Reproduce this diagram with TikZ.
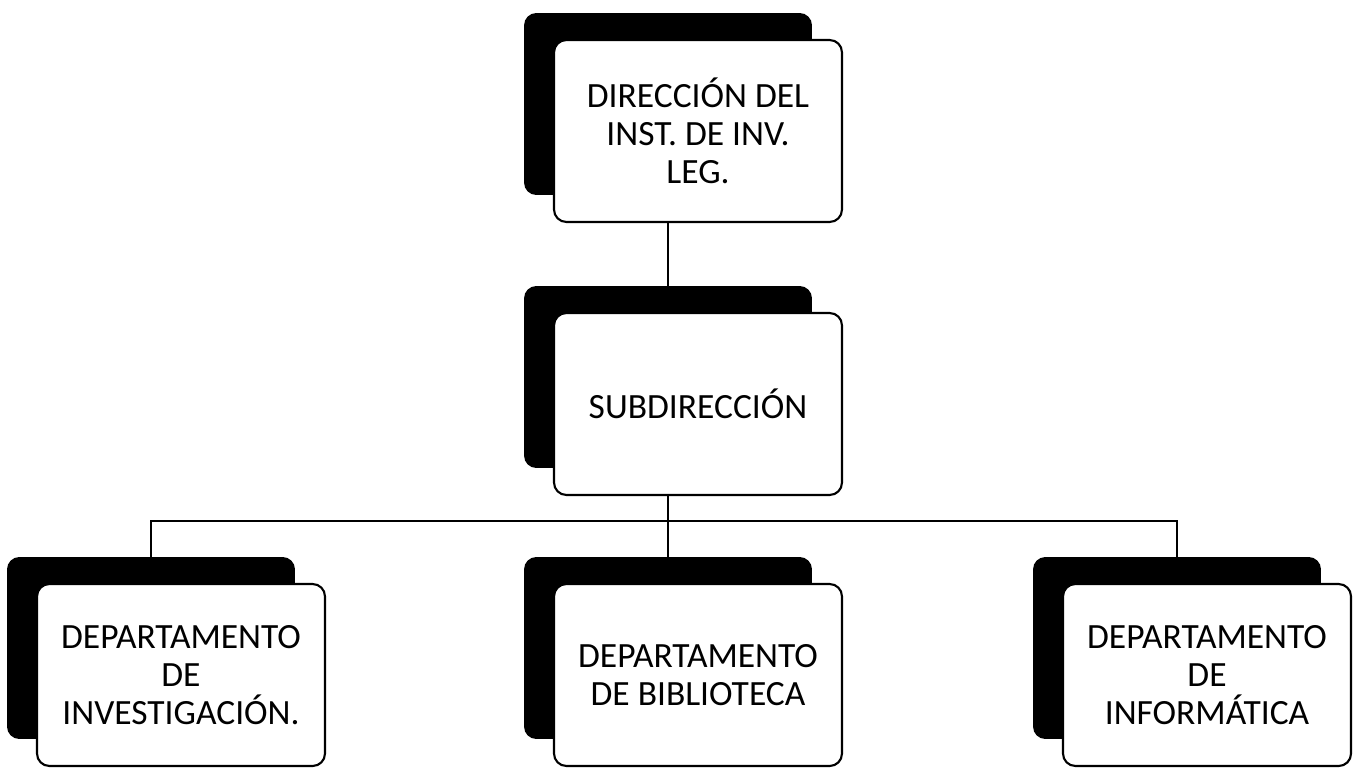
\documentclass[tikz,border=0pt]{standalone}
\usepackage{fontspec}
\setmainfont{Carlito}
\usetikzlibrary{backgrounds}
\tikzset{
	backbox/.style={
		rectangle,
		rounded corners=7pt,
		fill=black,
		inner sep=0pt,
		minimum width=5.76cm,
		minimum height=3.64cm},
	unitbox/.style={
		rectangle,
		rounded corners=7pt,
		fill=white,
		draw=black, line width=1.2pt,
		minimum width=5.76cm,
		minimum height=3.64cm,
		align=center,
		font=\fontsize{20.2}{21.5}\selectfont},
	line/.style={draw, line width=1.2pt},
}

\begin{document}
\begin{tikzpicture}[x=0.02cm, y=-0.02cm]
\useasboundingbox (0,0) rectangle (1354,770);

% dark back boxes
\node[backbox] (dirS) at (668,104) {};
\node[backbox] (subS) at (668,377) {};
\node[backbox] (invS) at (151,648) {};
\node[backbox] (bibS) at (668,648) {};
\node[backbox] (infS) at (1177,648) {};

% front boxes
\node[unitbox] (dir) at ([shift={(30,27)}]dirS) {DIRECCIÓN DEL\\INST. DE INV.\\LEG.};
\node[unitbox] (sub) at ([shift={(30,27)}]subS) {SUBDIRECCIÓN};
\node[unitbox] (inv) at ([shift={(30,27)}]invS) {DEPARTAMENTO\\DE\\INVESTIGACIÓN.};
\node[unitbox] (bib) at ([shift={(30,27)}]bibS) {DEPARTAMENTO\\DE BIBLIOTECA};
\node[unitbox] (inf) at ([shift={(30,27)}]infS) {DEPARTAMENTO\\DE\\INFORMÁTICA};

\coordinate (bus) at (668,521);
\begin{scope}[on background layer]
\draw[line] (dirS) -- (subS) -- (bibS);
\draw[line] (invS) |- (bus) -| (infS);
\end{scope}
\end{tikzpicture}
\end{document}
